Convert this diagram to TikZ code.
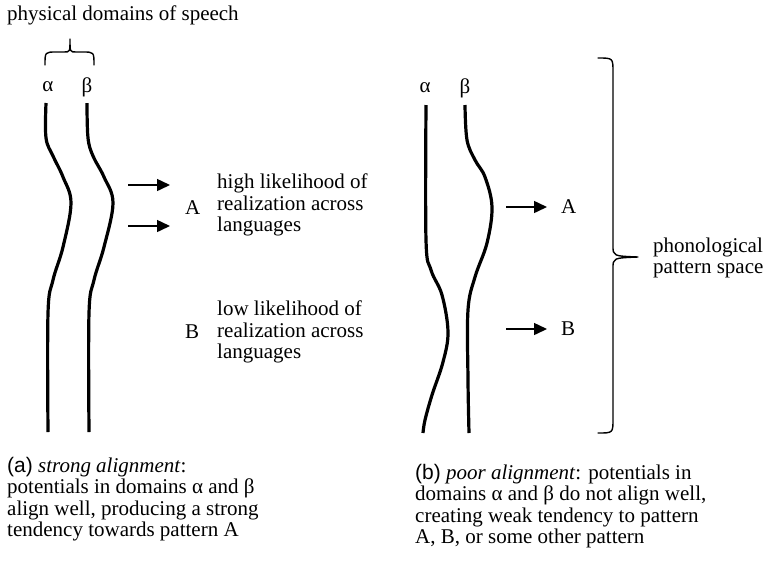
\documentclass[tikz,border=0pt]{standalone}
\usepackage{fontspec}
\setmainfont{Liberation Serif}
\setsansfont{Liberation Sans}
\usetikzlibrary{arrows.meta}
\begin{document}
\begin{tikzpicture}[x=1pt,y=-1pt,line join=round,font=\fontsize{21}{21.5}\selectfont,
		strand/.style={line width=3.2pt,line cap=butt},
		arr/.style={line width=1.5pt,-{Triangle[length=13pt,width=12pt]}},
		brace/.style={line width=1.4pt,line cap=round},
		lbl/.style={inner sep=0pt},
		txt/.style={inner sep=0pt,align=left}]
	\useasboundingbox (0,0) rectangle (766,566);
	% (a) strong alignment
	\node[lbl,anchor=west] (title) at (7,15) {physical domains of speech};
	\draw[brace] (45,65) .. controls (45,52) .. (56,52) -- (64,52) .. controls (70,52) .. (70,39)
		.. controls (70,52) .. (76,52) -- (83,52) .. controls (94,52) .. (94,65);
	\node[lbl] (alA) at (48,87) {α};
	\node[lbl] (beA) at (87,87) {β};
	\draw[strand] plot[smooth,tension=0.6] coordinates {(46,103) (46,138) (53,156) (63,177) (71,203) (63,247) (53,280) (48,313) (48,432)};
	\draw[strand] plot[smooth,tension=0.6] coordinates {(87,103) (88,138) (93,156) (104,177) (113,203) (104,247) (94,280) (89,313) (89,432)};
	\path (128,185) coordinate (a1s) (170,185) coordinate (a1e)
		(128,226) coordinate (a2s) (170,226) coordinate (a2e);
	\draw[arr] (a1s)--(a1e);
	\draw[arr] (a2s)--(a2e);
	\node[lbl,anchor=west] (pA) at (185,208) {A};
	\node[txt,anchor=west] (hiA) at (217,205) {high likelihood of\\realization across\\languages};
	\node[lbl,anchor=west] (pB) at (185,332) {B};
	\node[txt,anchor=west] (loB) at (217,332) {low likelihood of\\realization across\\languages};
	\node[txt,anchor=north west] (capA) at (7,457) {\textsf{(a)} \textit{strong alignment}:\\potentials in domains α and β\\align well, producing a strong\\tendency towards pattern A};
	% (b) poor alignment
	\node[lbl] (alB) at (425,88) {α};
	\node[lbl] (beB) at (465,88) {β};
	\draw[strand] plot[smooth,tension=0.6] coordinates {(426,105) (426,240) (431,270) (442,295) (448,332) (443,362) (432,395) (425,420) (423,433)};
	\draw[strand] plot[smooth,tension=0.6] coordinates {(465,105) (467,140) (475,160) (485,177) (492,207) (487,243) (475,277) (468,310) (468,380) (469,433)};
	\path (506,207) coordinate (b1s) (547,207) coordinate (b1e)
		(506,329) coordinate (b2s) (547,329) coordinate (b2e);
	\draw[arr] (b1s)--(b1e);
	\draw[arr] (b2s)--(b2e);
	\node[lbl,anchor=west] (qA) at (561,207) {A};
	\node[lbl,anchor=west] (qB) at (561,329) {B};
	\draw[brace] (598,58) .. controls (613,58) .. (613,72) -- (613,246) .. controls (613,256) .. (638,257)
		.. controls (613,258) .. (613,268) -- (613,419) .. controls (613,433) .. (598,433);
	\node[txt,anchor=west] (space) at (653,258) {phonological\\pattern space};
	\node[txt,anchor=north west] (capB) at (415,464) {\textsf{(b)} \textit{poor alignment}: potentials in\\domains α and β do not align well,\\creating weak tendency to pattern\\A, B, or some other pattern};
\end{tikzpicture}
\end{document}
